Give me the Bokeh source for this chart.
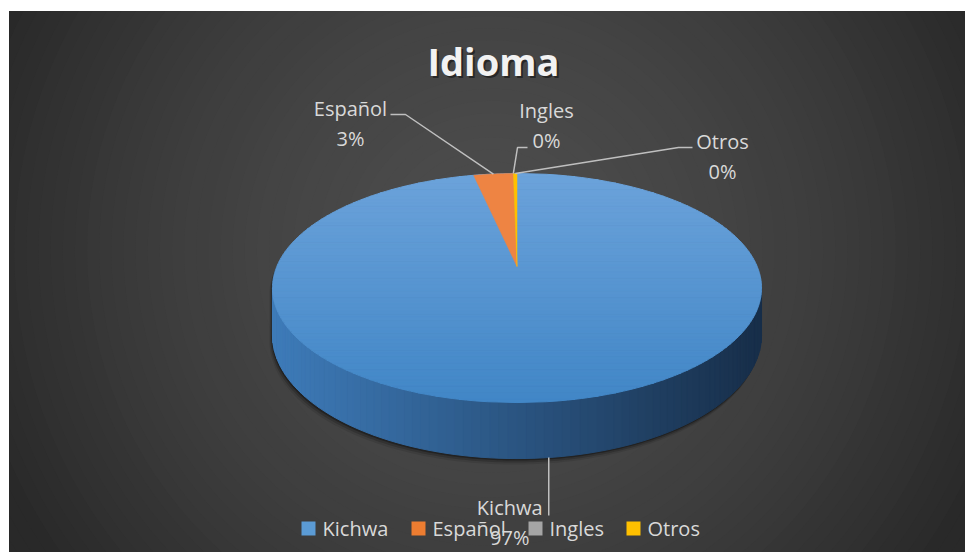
import numpy as np
from bokeh.plotting import figure
from bokeh.models import Range1d
from bokeh.embed import file_html
from bokeh.resources import INLINE
from bokeh.core.properties import value

# ---------------- data ----------------
categories = ["Kichwa", "Español", "Ingles", "Otros"]
counts = [338, 11, 0, 1]
colors = ["#5b9bd5", "#ed7d31", "#a5a5a5", "#ffc000"]
chart_title = "Idioma"

total = float(sum(counts))
shares = [c / total for c in counts]
pcts = [f"{round(s * 100):.0f}%" for s in shares]
ends = np.cumsum([s * 360.0 for s in shares])
starts = np.concatenate([[0.0], ends[:-1]])

# ---------------- geometry (3D pie, perspective) ----------------
CX, CY = 516.5, 266.0      # apex of the top face
A, B, T, H = 240.2, 110.5, 0.1878, 45.5

def proj(theta_deg, drop=0.0):
    th = np.radians(theta_deg)
    w = 1 + T * np.cos(th)
    return CX + A * np.sin(th) / w, CY - B * np.cos(th) / w + drop / w

FONT = value("Open Sans")
LABEL_COL = "#d9d9d9"

p = figure(width=965, height=552, x_range=Range1d(9, 965), y_range=Range1d(552, 11),
           output_backend="svg", toolbar_location=None,
           x_axis_location=None, y_axis_location=None,
           min_border_left=9, min_border_top=11, min_border_right=0, min_border_bottom=0,
           border_fill_color="white", background_fill_color="#282828",
           outline_line_color=None)
p.grid.visible = False

# ---------------- background radial gradient ----------------
radii = np.linspace(720, 4, 60)
def shade(r):
    v = 0x4c - 35 * np.minimum(1.0, r / 540.0) ** 1.7
    v = int(round(max(0x26, v)))
    return "#%02x%02x%02x" % (v, v, v)
p.ellipse(x=[491] * len(radii), y=[250] * len(radii), width=list(2 * radii),
          height=list(2 * radii), fill_color=[shade(r) for r in radii],
          line_color=None)

# ---------------- shadow under the pie ----------------
thL = np.degrees(np.arccos(-T))          # ~100.8 (right silhouette)
thR = 360 - thL                          # ~259.2 (left silhouette)
top_back = np.linspace(thR, thL + 360, 200)
front = np.linspace(thL, thR, 200)
sx1, sy1 = proj(top_back)
sx2, sy2 = proj(front, H)
silx = np.concatenate([sx1, sx2]); sily = np.concatenate([sy1, sy2])
for dx, dy, a in [(-3, 6, 0.10), (-2, 4, 0.18), (-1, 2, 0.30)]:
    p.patch(silx + dx, sily + dy, fill_color="black", fill_alpha=a, line_color=None)

# ---------------- side (front) with horizontal gradient ----------------
c_left = np.array([0x3e, 0x7b, 0xb9]); c_right = np.array([0x18, 0x2f, 0x4a])
N = 90
th = np.linspace(thL, thR, N + 1)
xs_side, ys_side, cols_side = [], [], []
for i in range(N):
    a0, a1 = th[i], th[i + 1]
    x0, y0 = proj(a0); x1, y1 = proj(a1)
    x0b, y0b = proj(a0, H); x1b, y1b = proj(a1, H)
    xs_side.append([x0, x1, x1b, x0b]); ys_side.append([y0, y1, y1b, y0b])
    f = ((x0 + x1) / 2 - (CX - A)) / (2 * A)
    f = min(1, max(0, f))
    c = (c_left * (1 - f) + c_right * f).astype(int)
    cols_side.append("#%02x%02x%02x" % tuple(c))
p.patches(xs_side, ys_side, fill_color=cols_side, line_color=cols_side, line_width=1)

# ---------------- top face with vertical gradient ----------------
ytop = CY - B / (1 + T); ybot = CY + B / (1 - T)
c_top = np.array([0x6c, 0xa3, 0xdb]); c_bot = np.array([0x42, 0x87, 0xc7])
NB = 70
yb = np.linspace(ytop, ybot, NB + 1)
xs_top, ys_top, cols_top = [], [], []
for i in range(NB):
    ys = np.linspace(yb[i], yb[i + 1], 5)
    d = CY - ys
    c = np.clip(d / (B - T * d), -1, 1)
    half = A * np.sqrt(1 - c ** 2) / (1 + T * c)
    xs_top.append(list(CX - half) + list((CX + half)[::-1]))
    ys_top.append(list(ys) + list(ys[::-1]))
    f = i / (NB - 1)
    col = (c_top * (1 - f) + c_bot * f).astype(int)
    cols_top.append("#%02x%02x%02x" % tuple(col))
p.patches(xs_top, ys_top, fill_color=cols_top, line_color=cols_top, line_width=1)

# other slices on the top face
wedge_cols = [None, "#ee8443", "#a5a5a5", "#ffc000"]
for k in range(1, len(categories)):
    if counts[k] <= 0:
        continue
    arc = np.linspace(starts[k], ends[k], 30)
    ax, ay = proj(arc)
    p.patch([CX] + list(ax), [CY] + list(ay), fill_color=wedge_cols[k],
            line_color=wedge_cols[k], line_width=0.5)

# ---------------- title ----------------
p.text(x=[495], y=[62], text=[chart_title], text_font=FONT, text_font_size="38px",
       text_font_style="bold", text_color="black", text_alpha=0.45,
       text_align="center", text_baseline="middle")
p.text(x=[493], y=[60], text=[chart_title], text_font=FONT, text_font_size="38px",
       text_font_style="bold", text_color="#f2f2f2",
       text_align="center", text_baseline="middle")

# ---------------- data labels with leader lines ----------------
mids = (starts + ends) / 2
LINE_COL = "#bfbfbf"
# Kichwa (front, bottom of the side)
kx, ky = proj(mids[0], H)
p.line([kx, kx], [ky, ky + 58], line_color=LINE_COL, line_width=1.5)
lab_pos = {0: (kx - 39, ky + 50)}
# Español
ex, ey = proj(mids[1])
p.line([ex, 405, 390], [ey, 114, 114], line_color=LINE_COL, line_width=1.5)
lab_pos[1] = (350, 108)
# Ingles
ix, iy = proj(mids[2])
p.line([ix, 517, 527], [iy, 147, 147], line_color=LINE_COL, line_width=1.5)
lab_pos[2] = (546, 110)
# Otros
ox, oy = proj(mids[3])
p.line([ox, 678, 692], [oy, 147, 147], line_color=LINE_COL, line_width=1.5)
lab_pos[3] = (722, 141)

for k in range(len(categories)):
    lx, ly = lab_pos[k]
    p.text(x=[lx, lx], y=[ly, ly + 30], text=[categories[k], pcts[k]], text_font=FONT,
           text_font_size="20px", text_color=LABEL_COL,
           text_align="center", text_baseline="middle")

# ---------------- legend ----------------
leg_sq_x = [308, 418, 535, 633]
leg_y = 528
p.rect(x=leg_sq_x, y=[leg_y] * 4, width=14, height=14, fill_color=colors, line_color=None)
p.text(x=[x + 14 for x in leg_sq_x], y=[leg_y] * 4, text=categories, text_font=FONT,
       text_font_size="20px", text_color=LABEL_COL, text_align="left",
       text_baseline="middle")

open("out.html", "w").write(file_html(p, INLINE))
